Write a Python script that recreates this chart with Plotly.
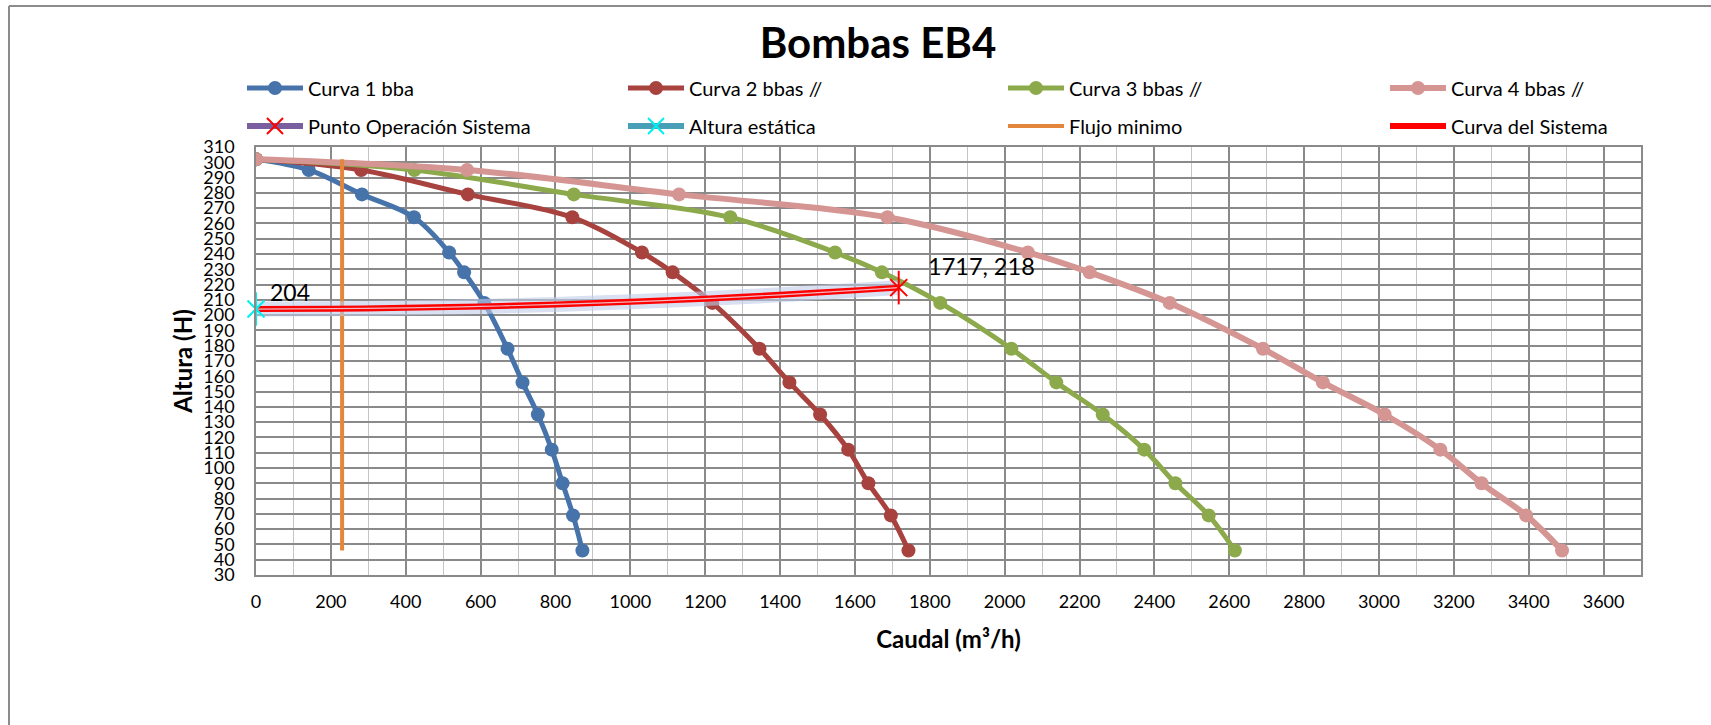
import plotly.graph_objects as go

# Pump curves (flow in m3/h vs head in m) for 1..4 pumps in parallel
altura = [302, 295, 279, 264, 241, 228, 208, 178, 156, 135, 112, 90, 69, 46]
caudal_1 = [0, 141, 283, 422, 516, 556, 610, 672, 712, 753, 790, 819, 847, 872]
caudal_2 = [0, 281, 566, 845, 1031, 1113, 1219, 1345, 1425, 1507, 1582, 1636, 1696, 1743]
caudal_3 = [0, 423, 849, 1267, 1547, 1672, 1828, 2018, 2138, 2262, 2373, 2456, 2545, 2615]
caudal_4 = [0, 564, 1130, 1687, 2062, 2227, 2441, 2690, 2850, 3015, 3164, 3274, 3393, 3489]

# System curve
sistema_q = [0, 200, 400, 600, 800, 1000, 1200, 1400, 1600, 1717]
sistema_h = [204, 204.2, 204.8, 205.7, 207.0, 208.7, 210.8, 213.3, 216.2, 218]

# Operating point, static head and minimum flow
punto_q, punto_h = 1717, 218
estatica_q, estatica_h = 0, 204
flujo_min_q = [230, 230]
flujo_min_h = [46, 302]

x_ticks = list(range(0, 3601, 200))
y_ticks = list(range(30, 311, 10))

FONT = "Lato"
W, H = 1711, 725
L, R, T, B = 256, 70, 147, 150
PW, PH = W - L - R, H - T - B


def px_x(px):
    return (px - L) / PW


def px_y(py):
    return (H - B - py) / PH


# legend slots: 4 columns x 2 rows
LEG_COLS = [242, 623, 1003, 1385]
LEG_ROWS = [88, 126]

fig = go.Figure()

curvas = [
    ("Curva 1 bba", caudal_1, "#4673AA", 5),
    ("Curva 2 bbas //", caudal_2, "#A8423F", 5),
    ("Curva 3 bbas //", caudal_3, "#8CA94B", 5),
    ("Curva 4 bbas //", caudal_4, "#D49593", 6),
]
for i, (nombre, q, color, lw) in enumerate(curvas):
    fig.add_trace(go.Scatter(
        x=q, y=altura, name=nombre, mode="lines+markers",
        line=dict(color=color, width=lw, shape="spline", smoothing=1.0),
        marker=dict(symbol="circle", size=14, color=color),
        legend=f"legend{i + 1}" if i else "legend", hoverinfo="x+y",
    ))

# Minimum flow line
fig.add_trace(go.Scatter(
    x=flujo_min_q, y=flujo_min_h, name="Flujo minimo", mode="lines",
    line=dict(color="#E4873C", width=4),
    legend="legend7",
))

# Light halo of the operating series along the system curve
fig.add_trace(go.Scatter(
    x=sistema_q, y=sistema_h, mode="lines", showlegend=False, hoverinfo="skip",
    line=dict(color="rgba(190,204,232,0.6)", width=15, shape="spline"),
))

# System curve (red, with a pale core)
fig.add_trace(go.Scatter(
    x=sistema_q, y=sistema_h, name="Curva del Sistema", mode="lines",
    line=dict(color="#FF0000", width=6, shape="spline"),
    legend="legend8",
))
fig.add_trace(go.Scatter(
    x=sistema_q, y=sistema_h, mode="lines", showlegend=False, hoverinfo="skip",
    line=dict(color="rgba(235,205,215,0.9)", width=1.2, shape="spline"),
))

# Operating point
fig.add_trace(go.Scatter(
    x=[punto_q], y=[punto_h], name="Punto Operación Sistema", mode="lines+markers",
    line=dict(color="#7A5FA0", width=6),
    marker=dict(symbol="x-thin-open", size=17, color="#FF0000",
                line=dict(color="#FF0000", width=2)),
    legend="legend5", cliponaxis=False,
))
fig.add_trace(go.Scatter(
    x=[punto_q], y=[punto_h], mode="markers", showlegend=False, hoverinfo="skip",
    marker=dict(symbol="line-ns-open", size=24, color="#FF0000",
                line=dict(color="#FF0000", width=2)),
    cliponaxis=False,
))

# Static head
fig.add_trace(go.Scatter(
    x=[estatica_q], y=[estatica_h], name="Altura estática", mode="lines+markers",
    line=dict(color="#4A9FB8", width=6),
    marker=dict(symbol="x-thin-open", size=17, color="#00F0F0",
                line=dict(color="#00F0F0", width=2)),
    legend="legend6", cliponaxis=False,
))
fig.add_trace(go.Scatter(
    x=[estatica_q], y=[estatica_h], mode="markers", showlegend=False, hoverinfo="skip",
    marker=dict(symbol="line-ns-open", size=24, color="#00F0F0",
                line=dict(color="#00F0F0", width=2)),
    cliponaxis=False,
))

# Data labels
fig.add_annotation(
    x=estatica_q, y=estatica_h, text=f"{estatica_h}", showarrow=False,
    xanchor="left", yanchor="middle", xshift=12, yshift=17,
    font=dict(family=FONT, size=23, color="#000000"),
)
fig.add_annotation(
    x=punto_q, y=punto_h, text=f"{punto_q}, {punto_h}", showarrow=False,
    xanchor="left", yanchor="middle", xshift=27, yshift=22,
    font=dict(family=FONT, size=23.5, color="#000000"),
)

grid_dark = "#8A8A8A"
grid_light = "#C4C4C4"

fig.update_xaxes(
    range=[0, 3700], tickvals=x_ticks, ticktext=[str(v) for v in x_ticks],
    showgrid=True, gridcolor=grid_dark, gridwidth=1.5,
    minor=dict(dtick=100, tick0=0, showgrid=True, gridcolor=grid_light, gridwidth=1.2),
    showline=True, linecolor=grid_dark, linewidth=1.5, mirror=True,
    zeroline=False, ticks="", ticklabelstandoff=10,
    tickfont=dict(family=FONT, size=18, color="#000000"),
    title=dict(text="<b>Caudal (m³/h)</b>", font=dict(family=FONT, size=24, color="#000000"),
               standoff=20),
)
fig.update_yaxes(
    range=[30, 310], tickvals=y_ticks, ticktext=[str(v) for v in y_ticks],
    showgrid=True, gridcolor=grid_dark, gridwidth=1.5,
    showline=True, linecolor=grid_dark, linewidth=1.5, mirror=True,
    zeroline=False, ticks="", ticklabelstandoff=16,
    tickfont=dict(family=FONT, size=18, color="#000000"),
    title=dict(text="<b>Altura (H)</b>", font=dict(family=FONT, size=24, color="#000000"),
               standoff=4),
)

legend_common = dict(
    orientation="h", xanchor="left", yanchor="middle", itemwidth=56,
    font=dict(family=FONT, size=20, color="#000000"),
    bgcolor="rgba(0,0,0,0)",
)
legends = {}
for k in range(8):
    key = "legend" if k == 0 else f"legend{k + 1}"
    legends[key] = dict(x=px_x(LEG_COLS[k % 4]), y=px_y(LEG_ROWS[k // 4]), **legend_common)

fig.update_layout(
    width=W, height=H, autosize=False,
    margin=dict(l=L, r=R, t=T, b=B, pad=0),
    paper_bgcolor="#FFFFFF", plot_bgcolor="#FFFFFF",
    title=dict(text="Bombas EB4", x=878 / W, xanchor="center", xref="container",
               y=1 - 43 / H, yanchor="middle", yref="container",
               font=dict(family=FONT, size=42, color="#000000", weight="bold")),
    showlegend=True,
    shapes=[
        dict(type="line", xref="paper", yref="paper", layer="above",
             x0=px_x(9), x1=px_x(1715), y0=px_y(6), y1=px_y(6),
             line=dict(color="#8C8C8C", width=2)),
        dict(type="line", xref="paper", yref="paper", layer="above",
             x0=px_x(9), x1=px_x(9), y0=px_y(6), y1=px_y(730),
             line=dict(color="#8C8C8C", width=2)),
    ],
    **legends,
)

fig.write_html("out.html")
